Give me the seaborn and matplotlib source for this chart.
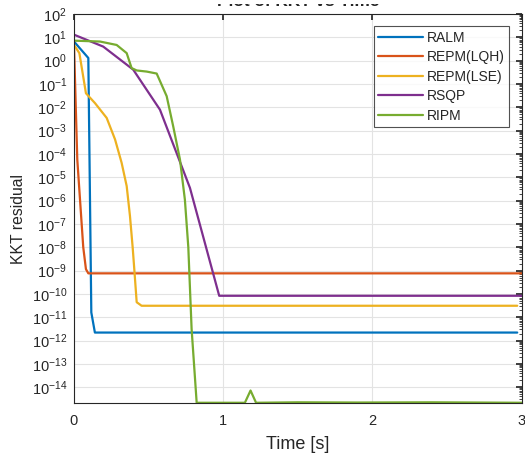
import numpy as np
import pandas as pd
import matplotlib
matplotlib.use("Agg")
import matplotlib.pyplot as plt
import matplotlib.ticker as mticker
from matplotlib.patches import Rectangle
import seaborn as sns

# ---- data ----
ralm_t = [0.0, 0.096, 0.116, 0.14, 2.97]
ralm_y = [6.6, 1.3, 1.6e-11, 2.2e-12, 2.2e-12]

lqh_t = [0.0, 0.022, 0.062, 0.08, 0.096, 3.0]
lqh_y = [4.7, 5.8e-5, 1e-8, 1.15e-9, 7.6e-10, 7.6e-10]

lse_t = [0.0, 0.036, 0.08, 0.141, 0.219, 0.275, 0.319, 0.353, 0.375, 0.393, 0.404, 0.42, 0.453, 2.97]
lse_y = [4.7, 2.1, 0.04, 0.015, 3.5e-3, 4.2e-4, 4.2e-5, 4.2e-6, 2.2e-7, 1e-8, 1.15e-9, 4.4e-11, 3.1e-11, 3.1e-11]

rsqp_t = [0.0, 0.196, 0.397, 0.576, 0.777, 0.973, 3.0]
rsqp_y = [13.0, 4.0, 0.41, 7.9e-3, 3.5e-6, 8.3e-11, 8.3e-11]

ripm_t = [0.0, 0.174, 0.286, 0.353, 0.386, 0.42, 0.487, 0.554, 0.621, 0.665, 0.71, 0.743,
          0.766, 0.788, 0.822, 1.145, 1.183, 1.22, 1.5, 1.9, 2.4, 3.0]
ripm_y = [7.2, 6.6, 4.7, 2.1, 0.48, 0.38, 0.34, 0.28, 0.03, 1.5e-3, 5.8e-5, 1.1e-6,
          1e-8, 3.2e-12, 2.15e-15, 2.15e-15, 7.2e-15, 2.15e-15, 2.25e-15, 2.2e-15, 2.25e-15, 2.15e-15]

names = ["RALM", "REPM(LQH)", "REPM(LSE)", "RSQP", "RIPM"]
colors = ["#0072BD", "#D95319", "#EDB120", "#7E2F8E", "#77AC30"]

series = [(ralm_t, ralm_y), (lqh_t, lqh_y), (lse_t, lse_y), (rsqp_t, rsqp_y), (ripm_t, ripm_y)]
frames = []
for n, (t, y) in zip(names, series):
    frames.append(pd.DataFrame({"Time": t, "KKT": y, "Method": n}))
df = pd.concat(frames, ignore_index=True)

sns.set_theme(style="white")
plt.rcParams["font.family"] = ["Liberation Sans", "DejaVu Sans"]
plt.rcParams["mathtext.default"] = "regular"

fig = plt.figure(figsize=(5.25, 4.53), dpi=100)
ax = fig.add_axes([74 / 525, 1 - 403 / 453, (521.7 - 74) / 525, (403 - 14) / 453])

sns.lineplot(data=df, x="Time", y="KKT", hue="Method", hue_order=names,
             palette=dict(zip(names, colors)), estimator=None, sort=False,
             linewidth=1.6, ax=ax)

ax.set_yscale("log")
ax.set_xlim(0, 3)
ax.set_ylim(2.1e-15, 1e2)
ax.set_xticks([0, 1, 2, 3])
ax.yaxis.set_major_locator(mticker.LogLocator(base=10, numticks=30))
ax.yaxis.set_minor_locator(mticker.LogLocator(base=10, subs=np.arange(2, 10), numticks=30))
ax.yaxis.set_minor_formatter(mticker.NullFormatter())

dark = "#262626"
ax.grid(True, which="major", color="#e3e3e3", linewidth=0.8)
ax.set_axisbelow(True)
for s in ax.spines.values():
    s.set_color(dark)
    s.set_linewidth(0.8)
ax.tick_params(which="both", direction="in", top=True, right=True, colors=dark,
               labelsize=10.5, labelcolor=dark)
ax.tick_params(which="major", length=4)
ax.tick_params(which="minor", length=2.2, width=0.6)
ax.tick_params(axis="x", pad=8)
ax.tick_params(axis="y", pad=5)

ax.set_xlabel("Time [s]", fontsize=13, color=dark, labelpad=6)
ax.set_ylabel("KKT residual", fontsize=11.3, color=dark)
ax.yaxis.set_label_coords(-0.108, 0.473)
ax.set_title("Plot of KKT vs Time", fontsize=12.4, fontweight="bold", color=dark, pad=6)

# the reference image is cropped just above the title's baseline
fig.patches.append(Rectangle((0, 1 - 4.3 / 453), 1, 4.3 / 453, transform=fig.transFigure,
                             facecolor="white", edgecolor="none", zorder=10))

leg = ax.legend(loc="upper right", fontsize=10, frameon=True, fancybox=False,
                edgecolor=dark, borderpad=0.32, handlelength=3.2, handletextpad=0.3,
                labelspacing=0.4, borderaxespad=0.0, bbox_to_anchor=(0.9723, 0.969))
leg.get_frame().set_linewidth(0.8)
for line in leg.get_lines():
    line.set_linewidth(1.6)

fig.savefig("out.png", dpi=100)
